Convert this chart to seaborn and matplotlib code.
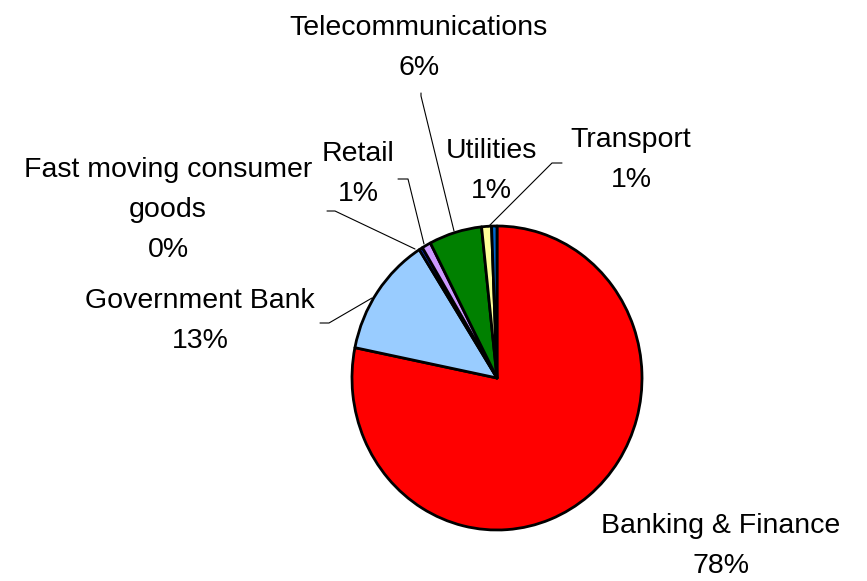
import matplotlib
matplotlib.use("Agg")
import matplotlib.pyplot as plt
import seaborn as sns

# Sector shares (percent of total)
sectors = ["Banking & Finance", "Government Bank", "Fast moving consumer\ngoods",
           "Retail", "Telecommunications", "Utilities", "Transport"]
shares = [78.2, 12.8, 0.4, 1.0, 5.9, 1.1, 0.6]
slice_colors = ["#FF0000", "#99CCFF", "#0033CC", "#CC99FF", "#008000", "#FFFF99", "#0066CC"]

sns.set_theme(style="white")
plt.rcParams["font.family"] = ["Liberation Sans", "DejaVu Sans"]

W, H = 867, 581
RX, RY = 145.0, 152.0          # pie is drawn slightly taller than wide
CX, CY = 497, 378              # pie centre, pixel coordinates (top-left origin)
YS = RX / RY

fig = plt.figure(figsize=(W / 100, H / 100), dpi=100)
ax = fig.add_axes([0, 0, 1, 1])

def P(x, y):
    """pixel (top-left origin) -> data coordinates"""
    return x, (H - y) * YS

ax.pie(shares, colors=slice_colors, startangle=90, counterclock=False,
       center=P(CX, CY), radius=RX, frame=False,
       wedgeprops=dict(edgecolor="black", linewidth=2, joinstyle="round"))
ax.set_aspect("auto")
ax.set_xlim(0, W)
ax.set_ylim(0, H * YS)
ax.axis("off")

total = sum(shares)
pct = [f"{round(v / total * 100)}%" for v in shares]

label_pos = {
    0: (721, 546),
    1: (200, 321),
    2: (168, 210),
    3: (358, 174),
    4: (419, 48),
    5: (491, 171),
    6: (631, 160),
}
for i, (px, py) in label_pos.items():
    ax.text(*P(px, py), f"{sectors[i]}\n{pct[i]}", ha="center", va="center",
            multialignment="center", fontsize=20.5, linespacing=1.68, color="black")

# leader lines from labels to their slices
leaders = [
    [(320, 323), (329, 323), (372, 298)],   # Government Bank
    [(327, 211), (335, 211), (415, 249)],   # Fast moving consumer goods
    [(398, 179), (408, 179), (424, 244)],   # Retail
    [(421, 93), (421, 96), (454, 231)],     # Telecommunications
    [(562, 163), (552, 163), (488, 227)],   # Transport
]
for pts in leaders:
    xs, ys = zip(*[P(x, y) for x, y in pts])
    ax.plot(xs, ys, color="black", lw=0.8)

fig.savefig("out.png", dpi=100, facecolor="white")
